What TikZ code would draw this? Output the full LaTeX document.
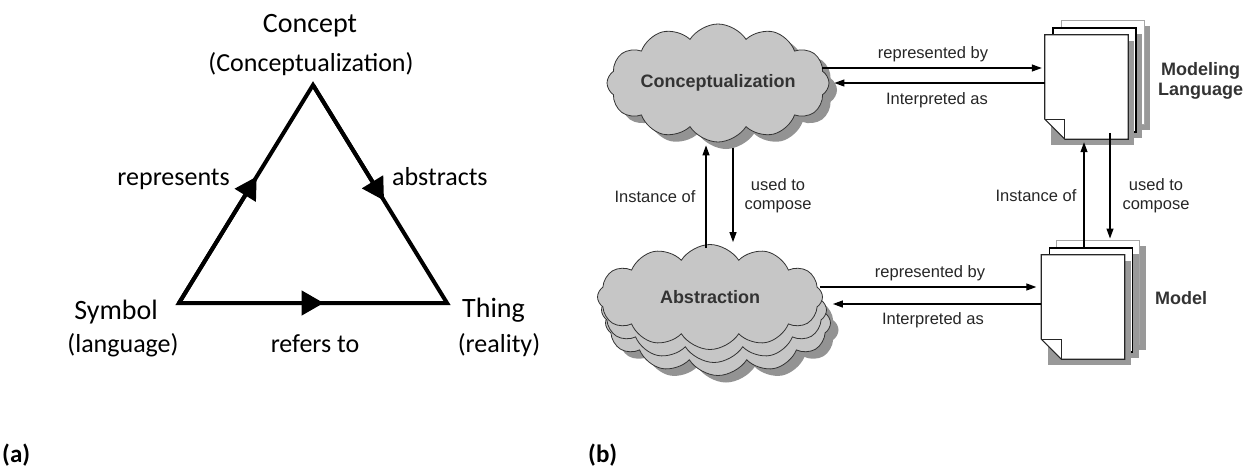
\documentclass[tikz,border=0pt]{standalone}
\usepackage{fontspec}
\setmainfont{Carlito}
\newfontfamily\arialfont{Liberation Sans}
\usetikzlibrary{shapes.symbols,arrows.meta,calc}

\begin{document}
\begin{tikzpicture}[x=1pt,y=-1pt,
  % semiotic triangle
  tlbl/.style={font=\fontsize{26}{30}\selectfont, inner sep=0pt},
  tbig/.style={font=\fontsize{28}{32}\selectfont, inner sep=0pt},
  side/.style={line width=4pt, line join=miter},
  sidetip/.style={line width=4pt, -{Triangle[length=22pt,width=24pt]}},
  panel/.style={font=\bfseries\fontsize{25}{28}\selectfont, inner sep=0pt},
  % modelling diagram
  elbl/.style={font=\arialfont\fontsize{16.5}{19}\selectfont, inner sep=0pt, align=center, text=black!85},
  blbl/.style={font=\arialfont\bfseries\fontsize{18}{20}\selectfont, inner sep=0pt, align=center, text=black!80},
  cloudbox/.style={cloud, cloud puffs=12, cloud puff arc=115, cloud ignores aspect,
    minimum width=222pt, minimum height=118pt, inner sep=0pt},
  cloudfill/.style={cloudbox, draw=black!80, line width=0.8pt, fill=gray!45},
  cloudshadow/.style={cloudbox, draw=none, fill=gray!85},
  page/.style={rectangle, minimum width=83pt, minimum height=104pt, inner sep=0pt},
  backpage/.style={page, draw=gray!70, line width=1pt, fill=white},
  midpage/.style={page, draw=black, line width=1.6pt, fill=white},
  pageshadow/.style={page, draw=none, fill=gray!80},
  arr/.style={line width=1.2pt, -{Triangle[length=10pt,width=7pt]}},
]
\useasboundingbox (0,0) rectangle (1249,469);

%% ---------------- (a) semiotic triangle ----------------
\coordinate (C) at (313,85);
\coordinate (S) at (179,303);
\coordinate (T) at (447,303);
\draw[side] (S) -- (C) -- (T) -- cycle;
\draw[sidetip] (S) -- ($(S)!0.58!(C)$);
\draw[sidetip] (C) -- ($(C)!0.53!(T)$);
\draw[sidetip] (S) -- ($(S)!0.54!(T)$);

\node[tbig, anchor=base] (concept) at (310,32) {Concept};
\node[tlbl, anchor=base] (conceptz) at (311,71) {(Conceptualization)};
\node[tlbl, anchor=base east] (repr) at (230,185) {represents};
\node[tlbl, anchor=base west] (abstr) at (392,185) {abstracts};
\node[tbig, anchor=base east] (symbol) at (158,319) {Symbol};
\node[tlbl, anchor=base] (lang) at (123,352) {(language)};
\node[tbig, anchor=base west] (thing) at (462,317) {Thing};
\node[tlbl, anchor=base] (reality) at (499,352) {(reality)};
\node[tlbl, anchor=base] (refers) at (315,352) {refers to};

\node[panel, anchor=base west] (pa) at (2,462) {(a)};
\node[panel, anchor=base west] (pb) at (588,462) {(b)};

%% ---------------- (b) conceptualization / language ----------------
% concept cloud with drop shadow
\node[cloudshadow] (ccsh) at (726,90) {};
\node[cloudfill, blbl] (cc) at (718,83) {Conceptualization};

% abstraction: stacked clouds
\node[cloudshadow, minimum height=105pt, minimum width=225pt] (absh) at (726,330) {};
\node[cloudfill, minimum height=105pt, minimum width=225pt] (ab3) at (718,323) {};
\node[cloudfill, minimum height=105pt, minimum width=225pt] (ab2) at (714,310) {};
\node[cloudfill, blbl, minimum height=105pt, minimum width=225pt] (ab) at (710,297) {Abstraction};

% modeling language: stack of pages
\node[pageshadow] (ml3sh) at (1108.5,78) {};
\node[backpage] (ml3) at (1102.5,72) {};
\node[pageshadow] (ml2sh) at (1100.5,86) {};
\node[midpage] (ml2) at (1094.5,80) {};
\node[pageshadow] (mlsh) at (1092.5,93) {};
\node[page] (ml) at (1086.5,87) {};
\draw[black!85, line width=1.2pt, fill=white, line join=miter]
  (ml.north west) -- (ml.north east) -- (ml.south east)
  -- ($(ml.south west)+(20,0)$) -- ($(ml.south west)+(0,-20)$) -- cycle;
\draw[black!85, line width=1.1pt]
  ($(ml.south west)+(0,-20)$) -- ($(ml.south west)+(20,-20)$) -- ($(ml.south west)+(20,0)$);
\node[blbl, anchor=west] (mllbl) at (1158,81) {Modeling\\Language};

% model: stack of pages
\node[pageshadow] (md3sh) at (1104,298) {};
\node[backpage] (md3) at (1098,292) {};
\node[pageshadow] (md2sh) at (1097,306) {};
\node[midpage] (md2) at (1091,300) {};
\node[pageshadow] (mdsh) at (1089,313) {};
\node[page] (md) at (1083,307) {};
\draw[black!85, line width=1.2pt, fill=white, line join=miter]
  (md.north west) -- (md.north east) -- (md.south east)
  -- ($(md.south west)+(20,0)$) -- ($(md.south west)+(0,-20)$) -- cycle;
\draw[black!85, line width=1.1pt]
  ($(md.south west)+(0,-20)$) -- ($(md.south west)+(20,-20)$) -- ($(md.south west)+(20,0)$);
\node[blbl] (mdlbl) at (1181,298) {Model};

% horizontal relations, upper row
\draw[arr] ($(cc.east)+(-7,-15)$) -- ($(ml.west)+(-3,-19)$);
\draw[arr] ($(ml.west)+(0,-4)$) -- ($(cc.east)+(5,0)$);
\node[elbl] (rb1) at (933,54) {represented by};
\node[elbl] (ia1) at (937,100) {Interpreted as};

% horizontal relations, lower row
\draw[arr] ($(ab.east)+(-3,-10)$) -- ($(md.west)+(-5,-20)$);
\draw[arr] ($(md.west)+(0,-3)$) -- ($(ab.east)+(10,7)$);
\node[elbl] (rb2) at (930,273) {represented by};
\node[elbl] (ia2) at (933,320) {Interpreted as};

% vertical relations, left
\draw[arr] ($(ab.north)+(-4,4)$) -- ($(cc.south)+(-12,3)$);
\draw[arr] ($(cc.south)+(15,6)$) -- ($(ab.north)+(23,-2)$);
\node[elbl] (io1) at (655,197) {Instance of};
\node[elbl] (uc1) at (778,196) {used to\\compose};

% vertical relations, right
\draw[arr] ($(md2.north)+(-7,0)$) -- ($(ml.south)+(-2.5,3)$);
\draw[arr] ($(ml2.south)+(15.5,0)$) -- ($(md3.north)+(12,-1)$);
\node[elbl] (io2) at (1036,196) {Instance of};
\node[elbl] (uc2) at (1156,196) {used to\\compose};
\end{tikzpicture}
\end{document}
